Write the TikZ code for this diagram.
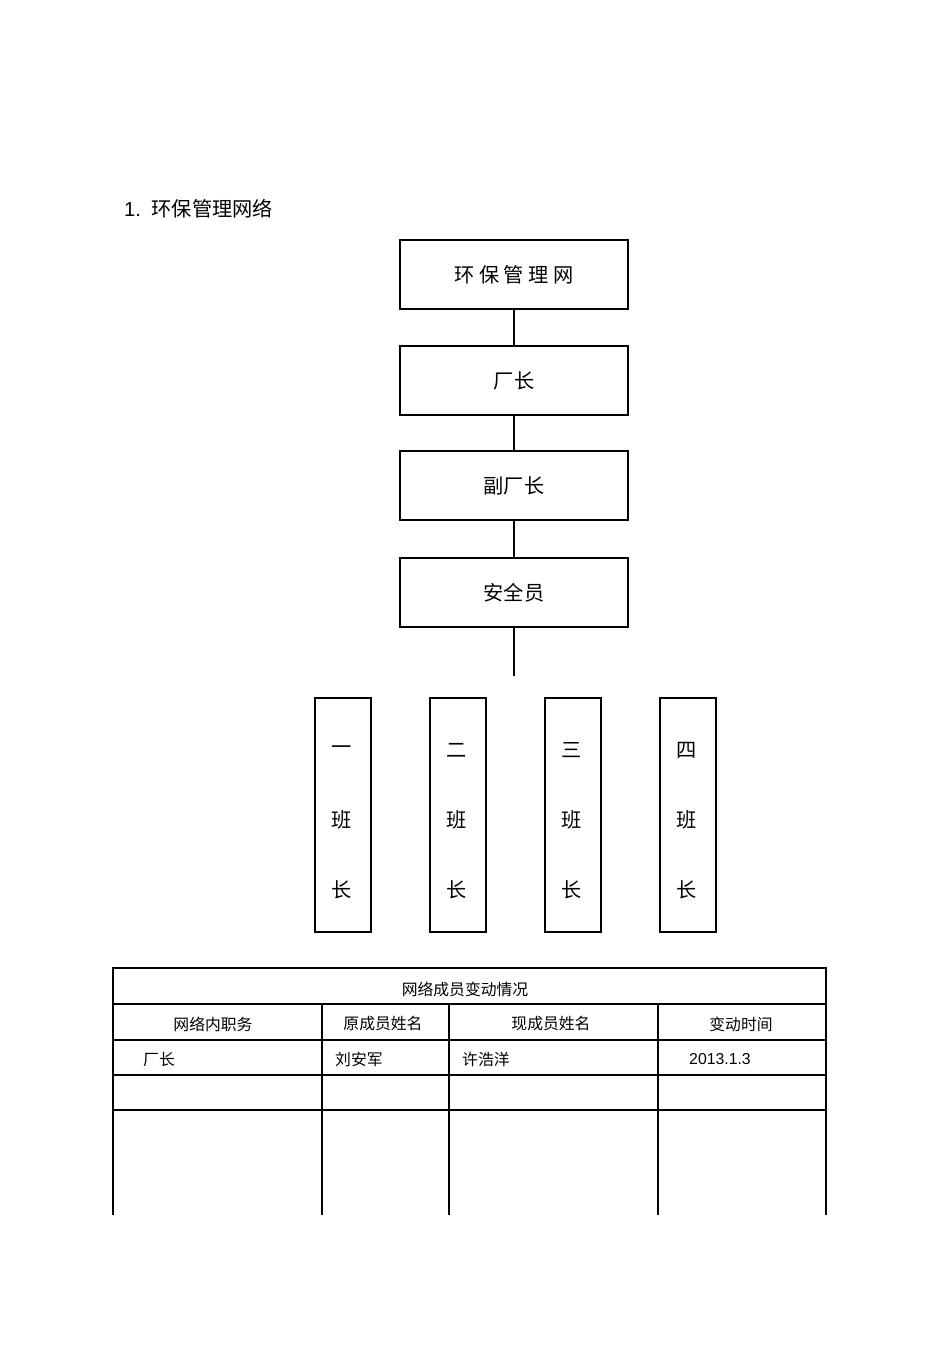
\documentclass[tikz,border=0pt]{standalone}
\usepackage{fontspec}
\setmainfont{Liberation Sans}
\newfontfamily\cjk{Noto Sans CJK SC}
\begin{document}
\begin{tikzpicture}[x=0.02cm,y=-0.02cm,
  bx/.style={draw,line width=0.6pt,inner sep=0pt},
  ln/.style={line width=0.6pt},
  big/.style={font=\cjk\fontsize{11.5pt}{13pt}\selectfont},
  sm/.style={font=\cjk\fontsize{9pt}{11pt}\selectfont}]
\useasboundingbox (0,0) rectangle (950,1345);
\node[anchor=west,big] (h) at (118,209) {{\fontspec{Liberation Sans}1.} \ 环保管理网络};
\node[bx,big,minimum width=228*0.02cm,minimum height=69*0.02cm] (a) at (514,274.5) {环\ 保\ 管\ 理\ 网};
\node[bx,big,minimum width=228*0.02cm,minimum height=69*0.02cm] (b) at (514,380.5) {厂长};
\node[bx,big,minimum width=228*0.02cm,minimum height=69*0.02cm] (c) at (514,485.5) {副厂长};
\node[bx,big,minimum width=228*0.02cm,minimum height=69*0.02cm] (d) at (514,592.5) {安全员};
\coordinate (e) at (514,676);
\draw[ln] (a) -- (b); \draw[ln] (b) -- (c); \draw[ln] (c) -- (d); \draw[ln] (d) -- (e);
\foreach \x/\n/\t in {343/v1/一,458/v2/二,573/v3/三,688/v4/四}{
  \node[bx,minimum width=56*0.02cm,minimum height=234*0.02cm] (\n) at (\x,815) {};
  \node[big] (\n a) at (\x-1,750) {\t};
  \node[big] (\n b) at (\x-1,820) {班};
  \node[big] (\n c) at (\x-1,890) {长};
}
% table
\draw[ln] (113,1215) -- (113,968) -- (826,968) -- (826,1215);
\foreach \y in {1004,1040,1075,1110} \draw[ln] (113,\y) -- (826,\y);
\foreach \x in {322,449,658} \draw[ln] (\x,1004) -- (\x,1215);
\node[sm] (t0) at (465,989) {网络成员变动情况};
\node[sm] (t1) at (213,1024) {网络内职务};
\node[sm] (t2) at (383,1024) {原成员姓名};
\node[sm] (t3) at (551,1024) {现成员姓名};
\node[sm] (t4) at (741,1024) {变动时间};
\node[sm,anchor=west] (r1) at (137,1059) {厂长};
\node[sm,anchor=west] (r2) at (329,1059) {刘安军};
\node[sm,anchor=west] (r3) at (456,1059) {许浩洋};
\node[anchor=west,font=\fontsize{9pt}{11pt}\selectfont] (r4) at (683,1059) {2013.1.3};
\end{tikzpicture}
\end{document}
